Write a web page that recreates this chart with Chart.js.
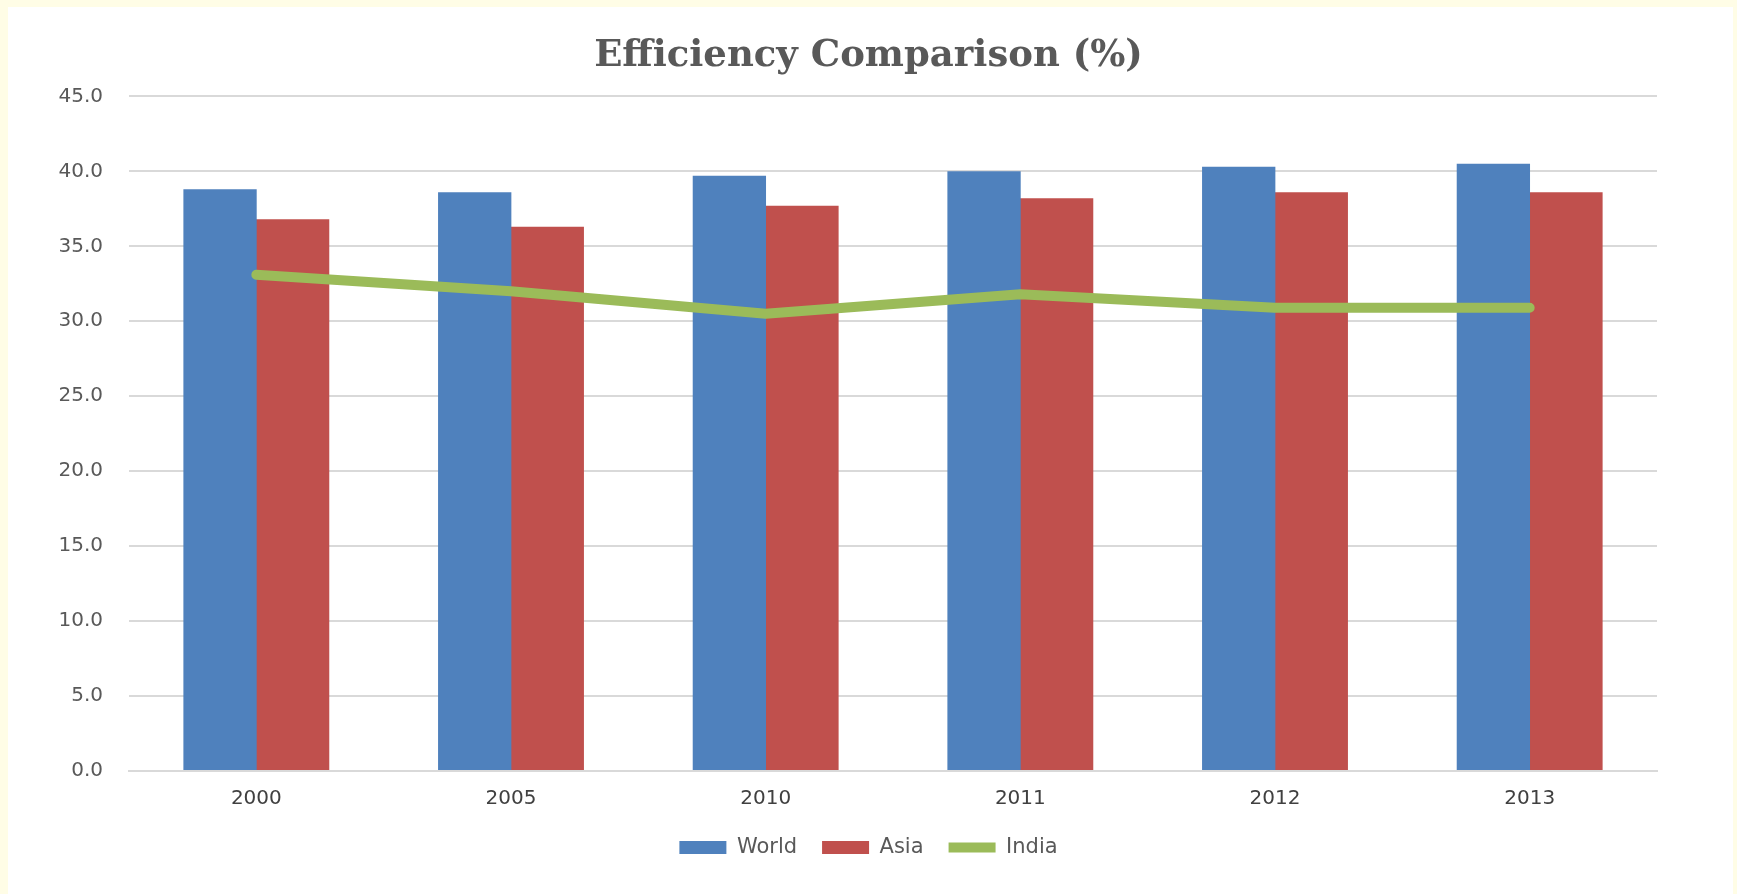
<!DOCTYPE html>
<html>
<head>
<meta charset="utf-8">
<title>Efficiency Comparison (%)</title>
<script src="https://cdn.jsdelivr.net/npm/chart.js@4.4.0/dist/chart.umd.min.js"></script>
<style>
    html, body { margin: 0; padding: 0; background: #fffde6; overflow: hidden; }
    #painel { position: absolute; left: 8px; top: 7px; width: 1725px; height: 887px; background: #ffffff; }
    #caixa { position: absolute; left: 0; top: 0; width: 1737px; height: 894px; }
</style>
</head>
<body>
<div id="painel"></div>
<div id="caixa"><canvas id="grafico"></canvas></div>
<script>
// Dados do gráfico
const anos = ['2000', '2005', '2010', '2011', '2012', '2013'];
const world = [38.8, 38.6, 39.7, 40.0, 40.3, 40.5];
const asia = [36.8, 36.3, 37.7, 38.2, 38.6, 38.6];
const india = [33.1, 32.0, 30.5, 31.8, 30.9, 30.9];
const eixoY = { min: 0, max: 45, passo: 5 };

const corTexto = '#595959';
const corGrade = '#d9d9d9';

const ctx = document.getElementById('grafico').getContext('2d');

new Chart(ctx, {
    type: 'bar',
    data: {
        labels: anos,
        datasets: [
            {
                label: 'World',
                data: world,
                backgroundColor: '#4f81bd',
                pointStyle: 'rect',
                order: 1
            },
            {
                label: 'Asia',
                data: asia,
                backgroundColor: '#c0504d',
                pointStyle: 'rect',
                order: 1
            },
            {
                type: 'line',
                label: 'India',
                data: india,
                borderColor: '#9bbb59',
                backgroundColor: '#9bbb59',
                borderWidth: 10,
                borderCapStyle: 'round',
                borderJoinStyle: 'round',
                pointRadius: 0,
                pointHoverRadius: 0,
                pointStyle: 'line',
                tension: 0,
                order: 0
            }
        ]
    },
    options: {
        responsive: true,
        maintainAspectRatio: false,
        animation: false,
        categoryPercentage: 0.57,
        barPercentage: 1.01,
        layout: { padding: { top: 0, left: 0, right: 0, bottom: 26 } },
        plugins: {
            title: {
                display: true,
                text: 'Efficiency Comparison (%)',
                color: corTexto,
                font: { family: 'DejaVu Serif', size: 37, weight: 'bold' },
                padding: { top: 34, bottom: 18 }
            },
            legend: {
                position: 'bottom',
                labels: {
                    usePointStyle: true,
                    pointStyleWidth: 47,
                    boxHeight: 13,
                    padding: 25,
                    color: corTexto,
                    font: { family: 'DejaVu Sans', size: 21 },
                    sort: (a, b) => a.datasetIndex - b.datasetIndex
                }
            },
            tooltip: { enabled: false }
        },
        scales: {
            x: {
                grid: { display: false, drawTicks: false },
                border: { display: true, color: corGrade, width: 2 },
                ticks: {
                    color: '#404040',
                    padding: 16,
                    font: { family: 'DejaVu Sans', size: 20 }
                },
                afterFit: scale => { scale.height = 41; }
            },
            y: {
                min: eixoY.min,
                max: eixoY.max,
                border: { display: false },
                grid: { color: corGrade, lineWidth: 2, drawTicks: false },
                ticks: {
                    stepSize: eixoY.passo,
                    color: corTexto,
                    padding: 26,
                    font: { family: 'DejaVu Sans', size: 20 },
                    callback: valor => valor.toFixed(1)
                },
                afterFit: scale => { scale.width = 129; }
            },
            direita: {
                position: 'right',
                display: true,
                grid: { display: false, drawTicks: false },
                border: { display: false },
                ticks: { display: false },
                afterFit: scale => { scale.width = 80; }
            }
        }
    }
});
</script>
</body>
</html>
